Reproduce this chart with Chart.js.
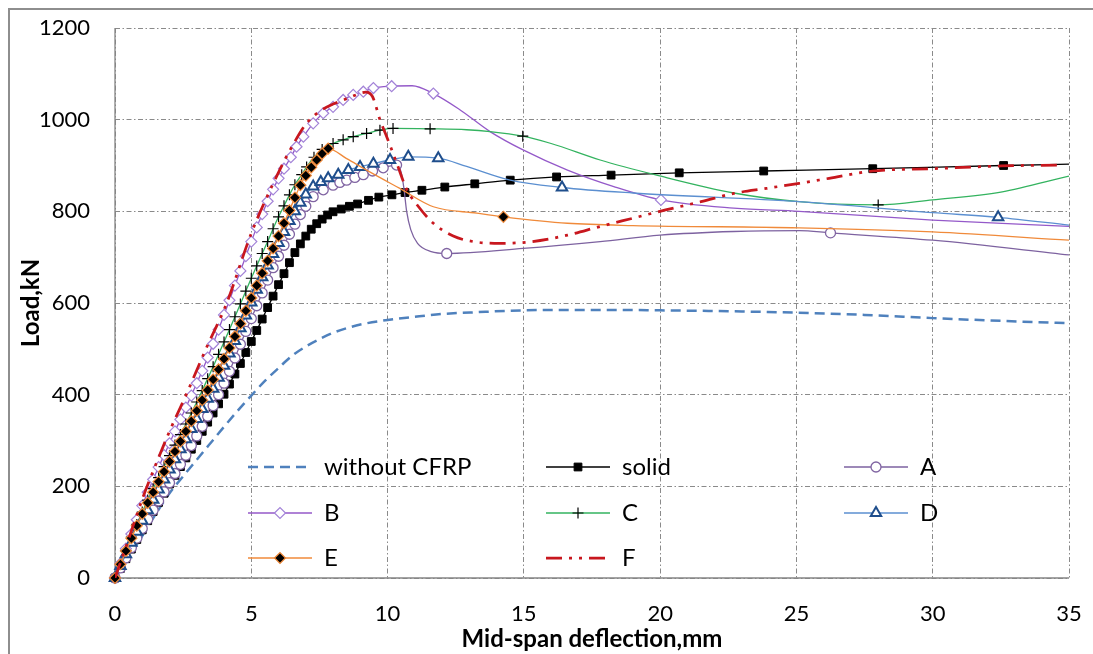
<!DOCTYPE html>
<html>
<head>
<meta charset="utf-8">
<script src="https://cdn.jsdelivr.net/npm/chart.js@4.4.1/dist/chart.umd.min.js"></script>
<style>
  html, body { margin: 0; padding: 0; background: #fff; }
  #wrap { width: 1093px; height: 654px; }
</style>
</head>
<body>
<div id="wrap"><canvas id="chart" width="1093" height="654"></canvas></div>
<script>
// load (kN) vs mid-span deflection (mm)
// *X/*Y = measured points that carry a marker, *TailX/*TailY = extra points on the smoothed curve

// without CFRP (no markers)
const bareX = [0, 0.5, 1, 1.5, 2, 2.5, 3, 3.5, 4, 4.5, 5, 5.5, 6, 6.5, 7, 7.5, 8, 8.5, 9, 10, 11, 12, 13.3, 15, 17.5, 20, 22.5, 25, 27.5, 30, 32.5, 35];
const bareY = [0, 45, 92, 140, 185, 222, 258, 294, 330, 365, 398, 430, 458, 485, 505, 521, 535, 545, 553, 563, 570, 576, 580, 584, 585, 584, 582, 579, 574, 567, 561, 556];

// solid
const solidX = [0, 0.2, 0.4, 0.6, 0.8, 1, 1.2, 1.4, 1.6, 1.8, 2, 2.2, 2.4, 2.6, 2.8, 3, 3.2, 3.4, 3.6, 3.8, 4, 4.2, 4.4, 4.6, 4.8, 5, 5.2, 5.4, 5.6, 5.8, 6, 6.2, 6.4, 6.6, 6.8, 7, 7.2, 7.4, 7.6, 7.8, 8,
  8.3, 8.6, 8.9, 9.3, 9.68, 10.16, 10.64, 11.26, 12.1, 13.2, 14.5, 16.2, 18.2, 20.7, 23.8, 27.8, 32.6];
const solidY = [0, 21, 42, 63, 84, 105, 125, 145, 165, 185, 205, 224, 243, 262, 281, 300, 320, 340, 360, 380, 401, 423, 445, 468, 492, 516, 540, 565, 590, 615, 640, 664, 688, 710, 729, 746, 761, 773, 783, 792, 799,
  805, 811, 816, 824, 831, 836, 841, 846, 853, 860, 868, 875, 879, 884, 888, 893, 900];
const solidTailX = [35];
const solidTailY = [903];

// A
const aX = [0, 0.2, 0.4, 0.6, 0.8, 1, 1.2, 1.4, 1.6, 1.8, 2, 2.2, 2.4, 2.6, 2.8, 3, 3.2, 3.4, 3.6, 3.8, 4, 4.2, 4.4, 4.6, 4.8, 5, 5.2, 5.4, 5.6, 5.8, 6, 6.2, 6.4, 6.6, 6.8, 7,
  7.27, 7.64, 8, 8.25, 8.5, 8.8, 9.11, 9.45, 9.84, 10.33, 12.17, 26.25];
const aY = [0, 22, 44, 66, 87, 108, 128, 148, 168, 188, 208, 228, 248, 268, 289, 310, 331, 353, 376, 400, 425, 451, 480, 510, 538, 566, 594, 622, 650, 677, 702, 726, 750, 772, 793, 811,
  832, 847, 857, 863, 868, 874, 880, 888, 895, 901, 708, 753];
const aTailX = [10.5, 10.6, 10.7, 10.85, 11.1, 11.6, 14.97, 17.8, 20, 22.7, 25.1, 30, 35];
const aTailY = [885, 850, 800, 760, 730, 712, 719, 734, 748, 756, 758, 737, 705];

// B
const bX = [0, 0.2, 0.4, 0.6, 0.8, 1, 1.2, 1.4, 1.6, 1.8, 2, 2.2, 2.4, 2.6, 2.8, 3, 3.2, 3.4, 3.6, 3.8, 4, 4.2, 4.4, 4.6, 4.8, 5, 5.2, 5.4, 5.6, 5.8, 6, 6.2,
  6.45, 6.66, 6.91, 7.27, 7.64, 8, 8.37, 8.74, 9.11, 9.48, 10.15, 11.68, 20.03];
const bY = [0, 32, 64, 96, 127, 158, 187, 215, 242, 268, 294, 320, 346, 372, 398, 425, 452, 481, 511, 542, 574, 606, 638, 670, 702, 734, 765, 794, 822, 848, 872, 893,
  918, 941, 963, 992, 1014, 1028, 1043, 1054, 1061, 1069, 1073, 1057, 825];
const bTailX = [10.9, 12.6, 13.76, 14.97, 16.6, 18.3, 22.7, 25.1, 30, 35];
const bTailY = [1074, 1024, 974, 934, 890, 854, 807, 800, 781, 767];

// C
const cX = [0, 0.2, 0.4, 0.6, 0.8, 1, 1.2, 1.4, 1.6, 1.8, 2, 2.2, 2.4, 2.6, 2.8, 3, 3.2, 3.4, 3.6, 3.8, 4, 4.2, 4.4, 4.6, 4.8, 5, 5.2, 5.4, 5.6, 5.8, 6, 6.2, 6.4, 6.6,
  6.85, 7.03, 7.3, 7.6, 8, 8.37, 8.74, 9.23, 9.72, 10.2, 11.56, 14.96, 28];
const cY = [0, 30, 60, 89, 117, 144, 170, 195, 219, 243, 267, 290, 313, 336, 360, 384, 409, 435, 461, 488, 515, 542, 570, 598, 626, 654, 681, 708, 734, 762, 788, 812, 836, 858,
  880, 897, 918, 935, 948, 956, 963, 970, 977, 981, 980, 964, 814];
const cTailX = [12.9, 13.76, 16, 17.8, 19.87, 22.7, 25.1, 30, 32.5, 35];
const cTailY = [978, 974, 948, 912, 879, 840, 821, 825, 842, 877];

// D
const dX = [0, 0.2, 0.4, 0.6, 0.8, 1, 1.2, 1.4, 1.6, 1.8, 2, 2.2, 2.4, 2.6, 2.8, 3, 3.2, 3.4, 3.6, 3.8, 4, 4.2, 4.4, 4.6, 4.8, 5, 5.2, 5.4, 5.6, 5.8, 6,
  6.2, 6.4, 6.6, 6.8, 7, 7.27, 7.55, 7.82, 8.19, 8.56, 8.99, 9.48, 10.09, 10.76, 11.86, 16.4, 32.4];
const dY = [0, 26, 52, 77, 101, 125, 148, 171, 193, 215, 237, 259, 281, 303, 325, 347, 369, 391, 413, 437, 463, 490, 517, 545, 573, 601, 629, 656, 682, 707, 731,
  755, 779, 800, 819, 837, 854, 864, 872, 880, 890, 897, 904, 912, 919, 916, 852, 787];
const dTailX = [12.9, 14.5, 19, 25.1, 30, 35];
const dTailY = [898, 868, 840, 821, 797, 770];

// E
const eX = [0, 0.2, 0.4, 0.6, 0.8, 1, 1.2, 1.4, 1.6, 1.8, 2, 2.2, 2.4, 2.6, 2.8, 3, 3.2, 3.4, 3.6, 3.8, 4, 4.2, 4.4, 4.6, 4.8, 5, 5.2, 5.4, 5.6, 5.8, 6, 6.2, 6.4, 6.6, 6.8, 7, 7.2, 7.4, 7.6,
  7.82, 14.25];
const eY = [0, 30, 59, 87, 114, 140, 164, 187, 210, 232, 254, 276, 298, 320, 342, 365, 388, 410, 433, 455, 478, 502, 527, 555, 583, 611, 638, 665, 692, 719, 746, 774, 802, 830, 857, 878, 896, 912, 926,
  937, 788];
const eTailX = [8.5, 9.23, 10.45, 11.68, 13.27, 16.6, 19, 25.1, 30, 35];
const eTailY = [915, 890, 850, 810, 796, 774, 769, 764, 755, 737];

// F (no markers)
const fX = [0, 0.5, 1, 1.5, 2, 2.65, 3.3, 4.1, 5, 6, 6.5, 7, 7.5, 8, 8.6, 9.2, 9.45, 9.72, 10, 10.35, 10.7, 11.07, 11.68, 12.41, 13.14,
  14.1, 15.3, 16.6, 17.8, 19, 20.2, 21.5, 22.7, 23.9, 25.1, 26.2, 27.8, 30, 32.5, 34.6];
const fY = [0, 85, 172, 248, 320, 405, 495, 600, 752, 885, 942, 990, 1018, 1034, 1048, 1060, 1050, 1000, 958, 903, 848, 815, 774, 746, 734,
  730, 734, 748, 767, 785, 803, 821, 839, 850, 861, 872, 888, 893, 899, 901];

function pts(xs, ys) {
  return xs.map((x, i) => ({ x: x, y: ys[i] }));
}

function curve(xs, ys, tailX, tailY) {
  return pts(xs, ys).concat(pts(tailX || [], tailY || [])).sort((p, q) => p.x - q.x);
}

// drawing order: first entry at the bottom, last on top
const series = [
  { name: 'without CFRP', line: '#4F81BD', width: 2.5, dash: [10, 6], data: curve(bareX, bareY) },
  { name: 'solid', line: '#000000', width: 1.3, data: curve(solidX, solidY, solidTailX, solidTailY), marks: pts(solidX, solidY),
    marker: { style: 'rect', radius: 5.5, fill: '#000000', stroke: '#000000', borderWidth: 1 } },
  { name: 'A', line: '#7D62A0', width: 1.3, data: curve(aX, aY, aTailX, aTailY), marks: pts(aX, aY),
    marker: { style: 'circle', radius: 5, fill: '#ffffff', stroke: '#8064A2', borderWidth: 1.3 } },
  { name: 'B', line: '#9459C9', width: 1.3, data: curve(bX, bY, bTailX, bTailY), marks: pts(bX, bY),
    marker: { style: 'rectRot', radius: 5.5, fill: '#ffffff', stroke: '#A383D8', borderWidth: 1.2 } },
  { name: 'C', line: '#33B35F', width: 1.3, data: curve(cX, cY, cTailX, cTailY), marks: pts(cX, cY),
    marker: { style: 'cross', radius: 5.5, fill: '#000000', stroke: '#000000', borderWidth: 1.2 } },
  { name: 'D', line: '#5B8FD0', width: 1.3, data: curve(dX, dY, dTailX, dTailY), marks: pts(dX, dY),
    marker: { style: 'triangle', radius: 6, fill: '#ffffff', stroke: '#1F4E8C', borderWidth: 2 } },
  { name: 'E', line: '#F08A3A', width: 1.3, data: curve(eX, eY, eTailX, eTailY), marks: pts(eX, eY),
    marker: { style: 'rectRot', radius: 5.5, fill: '#000000', stroke: '#F08A3A', borderWidth: 1.2 } },
  { name: 'F', line: '#C8171E', width: 2.75, dash: [16, 7, 3, 7, 3, 7], data: curve(fX, fY) }
];

// Chart.js paints the first dataset last, so build the list top-down
const datasets = [];
series.slice().reverse().forEach(s => {
  if (s.marks) {
    datasets.push({
      data: s.marks, showLine: false, clip: 10,
      pointStyle: s.marker.style, pointRadius: s.marker.radius, pointHoverRadius: s.marker.radius,
      pointBackgroundColor: s.marker.fill, pointBorderColor: s.marker.stroke, pointBorderWidth: s.marker.borderWidth
    });
  }
  datasets.push({
    data: s.data, showLine: true, pointRadius: 0, pointHoverRadius: 0,
    borderColor: s.line, borderWidth: s.width, borderDash: s.dash || [],
    cubicInterpolationMode: 'monotone', fill: false
  });
});

// legend rows sit inside the plot, three to a row
const keySpots = [[248, 467], [546, 467], [844, 467], [248, 513], [546, 513], [844, 513], [248, 558], [546, 558]];

const framePlugin = {
  id: 'frame',
  beforeDraw(chart) {
    const ctx = chart.ctx;
    ctx.save();
    ctx.fillStyle = '#ffffff';
    ctx.fillRect(0, 0, chart.width, chart.height);
    ctx.strokeStyle = '#8e8e8e';
    ctx.lineWidth = 2;
    ctx.strokeRect(9, 9, chart.width + 20, chart.height + 20);
    ctx.restore();
  },
  beforeDatasetsDraw(chart) {
    const { ctx, chartArea: a } = chart;
    ctx.save();
    ctx.strokeStyle = '#858585';
    ctx.lineWidth = 1.3;
    ctx.beginPath();
    ctx.moveTo(a.left, a.top);
    ctx.lineTo(a.left, a.bottom);
    ctx.lineTo(a.right, a.bottom);
    ctx.stroke();
    ctx.restore();
  }
};

const keyPlugin = {
  id: 'key',
  afterDatasetsDraw(chart) {
    const ctx = chart.ctx;
    const drawPoint = Chart.helpers && Chart.helpers.drawPoint;
    series.forEach((s, i) => {
      const [x0, y] = keySpots[i];
      const x1 = x0 + 64;
      ctx.save();
      ctx.strokeStyle = s.line;
      ctx.lineWidth = s.width;
      ctx.setLineDash(s.dash || []);
      ctx.beginPath();
      ctx.moveTo(x0, y);
      ctx.lineTo(x1, y);
      ctx.stroke();
      ctx.setLineDash([]);
      if (s.marker && drawPoint) {
        ctx.fillStyle = s.marker.fill;
        ctx.strokeStyle = s.marker.stroke;
        ctx.lineWidth = s.marker.borderWidth;
        drawPoint(ctx, { pointStyle: s.marker.style, radius: s.marker.radius, rotation: 0, borderWidth: s.marker.borderWidth }, (x0 + x1) / 2, y);
      }
      ctx.fillStyle = '#000000';
      ctx.font = '24px Lato';
      ctx.textAlign = 'left';
      ctx.textBaseline = 'middle';
      ctx.fillText(s.name, x1 + 12, y);
      ctx.restore();
    });
  }
};

Chart.defaults.font.family = 'Lato';
Chart.defaults.color = '#000000';

const plain = v => String(v);

new Chart(document.getElementById('chart').getContext('2d'), {
  type: 'scatter',
  data: { datasets: datasets },
  options: {
    responsive: false,
    animation: false,
    devicePixelRatio: 1,
    events: [],
    layout: { padding: { top: 28, right: 24, left: 0, bottom: 0 } },
    plugins: { legend: { display: false }, tooltip: { enabled: false } },
    scales: {
      x: {
        type: 'linear', min: 0, max: 35,
        ticks: { stepSize: 5, padding: 23, color: '#000000', font: { size: 22 }, callback: plain },
        grid: { color: '#8a8a8a', lineWidth: 1, drawTicks: false },
        border: { display: false, dash: [5, 2.5, 1.5, 2.5] },
        title: { display: true, text: 'Mid-span deflection,mm', color: '#000000', font: { size: 24, weight: 'bold' }, padding: { top: 0, bottom: 0 } },
        afterFit(scale) {
          scale.height = 76;
          scale.paddingLeft = 0;
          scale.paddingRight = 0;
        }
      },
      y: {
        type: 'linear', min: 0, max: 1200,
        ticks: { stepSize: 200, padding: 25, color: '#000000', font: { size: 22 }, callback: plain },
        grid: { color: '#8a8a8a', lineWidth: 1, drawTicks: false },
        border: { display: false, dash: [5, 2.5, 1.5, 2.5] },
        title: { display: true, text: 'Load,kN', color: '#000000', font: { size: 24, weight: 'bold' }, padding: { top: 17, bottom: 0 } },
        afterFit(scale) {
          scale.width = 115;
          scale.paddingTop = 0;
          scale.paddingBottom = 0;
        }
      }
    }
  },
  plugins: [framePlugin, keyPlugin]
});
</script>
</body>
</html>
